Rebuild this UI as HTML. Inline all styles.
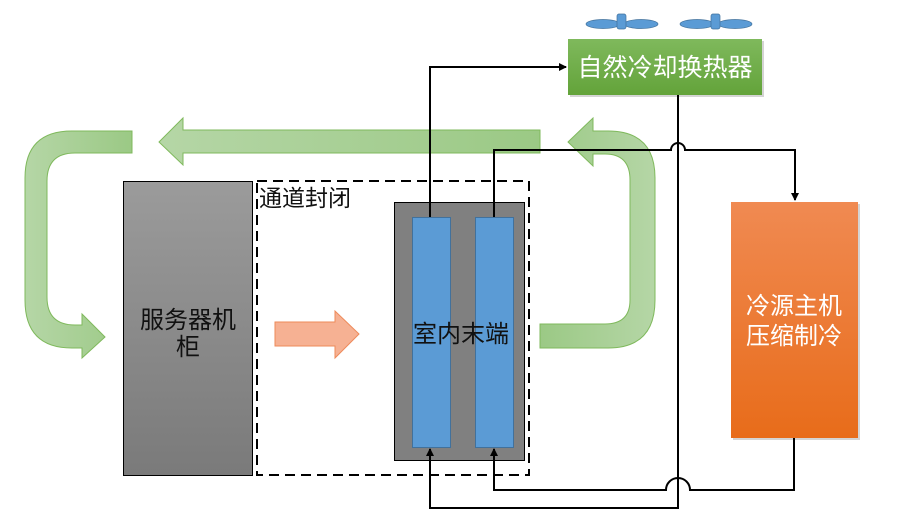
<!DOCTYPE html>
<html><head><meta charset="utf-8"><style>
html,body{margin:0;padding:0;background:#fff}
svg{display:block}
text{font-family:"Liberation Sans","Noto Sans CJK SC",sans-serif}
</style></head><body>
<svg width="910" height="531" viewBox="0 0 910 531" xmlns="http://www.w3.org/2000/svg">
<defs>
<linearGradient id="gh" x1="0" y1="0" x2="1" y2="0"><stop offset="0" stop-color="#b5d6a6"/><stop offset="1" stop-color="#9bc985"/></linearGradient>
<linearGradient id="gh2" x1="1" y1="0" x2="0" y2="0"><stop offset="0" stop-color="#b5d6a6"/><stop offset="1" stop-color="#9bc985"/></linearGradient>
<linearGradient id="gray" x1="0" y1="0" x2="0" y2="1"><stop offset="0" stop-color="#9b9b9b"/><stop offset="1" stop-color="#7a7a7a"/></linearGradient>
<linearGradient id="grn" x1="0" y1="0" x2="0" y2="1"><stop offset="0" stop-color="#7fb95c"/><stop offset="1" stop-color="#63a33a"/></linearGradient>
<linearGradient id="org" x1="0" y1="0" x2="0" y2="1"><stop offset="0" stop-color="#f08a52"/><stop offset="1" stop-color="#e86c1a"/></linearGradient>
<marker id="ar" markerWidth="8" markerHeight="8" refX="7" refY="4" orient="auto" markerUnits="userSpaceOnUse"><path d="M0,0 L8,4 L0,8 Z" fill="#000"/></marker>
</defs>
<path d="M132,131 H72 Q25,131 25,178 V300 Q25,348 72,348 H82 V358 L105,337 L82,314 V325 H75 Q47,325 47,297 V181 Q47,153 75,153 H132 Z" fill="url(#gh)" stroke="#7fb95c" stroke-width="1"/>
<path d="M540,130 H183 V118 L159,142 L183,165 V153 H540 Z" fill="url(#gh)" stroke="#7fb95c" stroke-width="1"/>
<path d="M540,324 H605 Q630,324 630,300 V180 Q630,154 605,154 H593 V166 L568,142 L593,118 V131 H608 Q655,131 655,178 V300 Q655,348 608,348 H540 Z" fill="url(#gh2)" stroke="#7fb95c" stroke-width="1"/>
<rect x="123.5" y="181.5" width="129" height="294" fill="url(#gray)" stroke="#000" stroke-width="1"/>
<text x="188" y="328" font-size="24" text-anchor="middle" fill="#111">服务器机</text>
<text x="188" y="355" font-size="24" text-anchor="middle" fill="#111">柜</text>
<rect x="257" y="181" width="272" height="294" fill="none" stroke="#000" stroke-width="2" stroke-dasharray="10,6"/>
<text x="259" y="206" font-size="23" fill="#111">通道封闭</text>
<path d="M275,322 H335 V311 L359,334 L335,358 V346 H275 Z" fill="#f6b193" stroke="#ee8a5a" stroke-width="1"/>
<rect x="394.5" y="202.5" width="130" height="258" fill="#808080" stroke="#000" stroke-width="1"/>
<rect x="412.5" y="217.5" width="38" height="230" fill="#5b9bd5" stroke="#41719c" stroke-width="1"/>
<rect x="475.5" y="217.5" width="38" height="230" fill="#5b9bd5" stroke="#41719c" stroke-width="1"/>
<text x="461" y="342" font-size="24" text-anchor="middle" fill="#111">室内末端</text>
<rect x="570" y="41" width="194" height="56" fill="#aaa" opacity="0.5"/>
<rect x="568" y="39" width="194" height="56" fill="url(#grn)"/>
<text x="665" y="76" font-size="25" text-anchor="middle" fill="#fff">自然冷却换热器</text>
<g fill="#5b9bd5" stroke="#41719c" stroke-width="0.7">
<ellipse cx="603" cy="24" rx="17" ry="4.5"/><ellipse cx="641" cy="24" rx="17" ry="4.5"/><rect x="617" y="14" width="9" height="15" rx="2"/>
<ellipse cx="697" cy="24" rx="17" ry="4.5"/><ellipse cx="735" cy="24" rx="17" ry="4.5"/><rect x="711" y="14" width="9" height="15" rx="2"/>
</g>
<rect x="733" y="204" width="127" height="236" fill="#aaa" opacity="0.5"/>
<rect x="731" y="202" width="127" height="236" fill="url(#org)"/>
<text x="794" y="314" font-size="24" text-anchor="middle" fill="#fff">冷源主机</text>
<text x="794" y="344" font-size="24" text-anchor="middle" fill="#fff">压缩制冷</text>
<g fill="none" stroke="#000" stroke-width="2">
<path d="M430,217 V67 H566" marker-end="url(#ar)"/>
<path d="M494,217 V150 H671 A7,7 0 0 1 685,150 H795 V200" marker-end="url(#ar)"/>
<path d="M678,95 V508 H430 V449" marker-end="url(#ar)"/>
<path d="M794,438 V490 H690 A7,7 0 0 0 666,490 H494 V449" marker-end="url(#ar)"/>
</g>
</svg>
</body></html>
